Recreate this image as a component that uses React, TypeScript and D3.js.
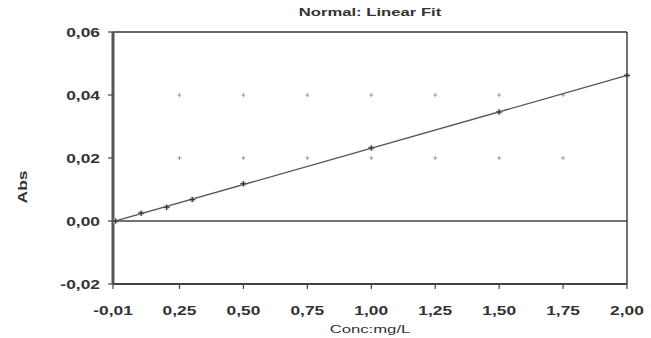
import React, { useEffect, useRef } from "react";
import * as d3 from "d3";

// values
const concPoints = [0, 0.1, 0.2, 0.3, 0.5, 1.0, 1.5, 2.0];
const absPoints = [0, 0.0025, 0.0044, 0.0068, 0.0118, 0.0232, 0.0346, 0.0462];
const fitSlope = 0.0231;
const fitIntercept = 0;
const xTicks = [-0.01, 0.25, 0.5, 0.75, 1.0, 1.25, 1.5, 1.75, 2.0];
const yTicks = [-0.02, 0, 0.02, 0.04, 0.06];
const gridX = [0.25, 0.5, 0.75, 1.0, 1.25, 1.5, 1.75];
const gridY = [0.02, 0.04];
const title = "Normal: Linear Fit";
const xLabel = "Conc:mg/L";
const yLabel = "Abs";

const W = 651;
const H = 338;
const margin = { top: 32, right: 24, bottom: 54, left: 113 };
const SX = 1.45; // the scan is stretched sideways

const fmt = (v: number) => d3.format(".2f")(v).replace(".", ",").replace("−", "-");

export default function App() {
  const ref = useRef<SVGSVGElement>(null);

  useEffect(() => {
    const svg = d3.select(ref.current);
    svg.selectAll("*").remove();
    const iw = W - margin.left - margin.right;
    const ih = H - margin.top - margin.bottom;
    const x = d3.scaleLinear().domain([-0.01, 2.0]).range([margin.left, margin.left + iw]);
    const y = d3.scaleLinear().domain([-0.02, 0.06]).range([margin.top + ih, margin.top]);
    const font = "'Liberation Sans', Arial, sans-serif";

    svg.append("rect").attr("width", W).attr("height", H).attr("fill", "#fff");

    // grid markers
    gridY.forEach((gy) => {
      gridX.forEach((gx) => {
        const g = svg.append("g").attr("stroke", "#9a9a9a").attr("stroke-width", 1);
        g.append("line").attr("x1", x(gx) - 2).attr("x2", x(gx) + 2).attr("y1", y(gy)).attr("y2", y(gy));
        g.append("line").attr("x1", x(gx)).attr("x2", x(gx)).attr("y1", y(gy) - 2).attr("y2", y(gy) + 2);
      });
    });

    // zero line
    svg.append("line")
      .attr("x1", x(-0.01)).attr("x2", x(2.0))
      .attr("y1", y(0)).attr("y2", y(0))
      .attr("stroke", "#444").attr("stroke-width", 1.6);

    // frame
    svg.append("line").attr("x1", x(-0.01)).attr("x2", x(2.0)).attr("y1", y(0.06)).attr("y2", y(0.06))
      .attr("stroke", "#333").attr("stroke-width", 1.6);
    svg.append("line").attr("x1", x(2.0)).attr("x2", x(2.0)).attr("y1", y(0.06)).attr("y2", y(-0.02))
      .attr("stroke", "#333").attr("stroke-width", 1.4);
    svg.append("line").attr("x1", x(-0.01)).attr("x2", x(2.0)).attr("y1", y(-0.02)).attr("y2", y(-0.02))
      .attr("stroke", "#444").attr("stroke-width", 2);
    svg.append("line").attr("x1", x(-0.01)).attr("x2", x(-0.01)).attr("y1", y(0.06)).attr("y2", y(-0.02))
      .attr("stroke", "#555").attr("stroke-width", 3);

    // fit line
    svg.append("line")
      .attr("x1", x(-0.01)).attr("y1", y(fitIntercept + fitSlope * -0.01))
      .attr("x2", x(2.0)).attr("y2", y(fitIntercept + fitSlope * 2.0))
      .attr("stroke", "#555").attr("stroke-width", 1.3);

    // data points
    concPoints.forEach((c, i) => {
      const px = x(c), py = y(absPoints[i]);
      svg.append("circle").attr("cx", px).attr("cy", py).attr("r", 3).attr("fill", "#bbb").attr("opacity", 0.6);
      const g = svg.append("g").attr("stroke", "#333").attr("stroke-width", 1.3);
      g.append("line").attr("x1", px - 3).attr("x2", px + 3).attr("y1", py).attr("y2", py);
      g.append("line").attr("x1", px).attr("x2", px).attr("y1", py - 2.5).attr("y2", py + 2.5);
    });

    // y ticks
    yTicks.forEach((t) => {
      svg.append("line").attr("x1", x(-0.01) - 5).attr("x2", x(-0.01)).attr("y1", y(t)).attr("y2", y(t))
        .attr("stroke", "#444").attr("stroke-width", 1.2);
      svg.append("text")
        .attr("transform", `translate(${x(-0.01) - 13},${y(t) + 4.5}) scale(${SX},1)`)
        .attr("text-anchor", "end")
        .attr("font-family", font).attr("font-size", 12).attr("font-weight", "bold")
        .attr("fill", "#333").text(fmt(t));
    });

    // x ticks
    xTicks.forEach((t) => {
      svg.append("line").attr("x1", x(t)).attr("x2", x(t)).attr("y1", y(-0.02)).attr("y2", y(-0.02) + 5)
        .attr("stroke", "#444").attr("stroke-width", 1.2);
      svg.append("text")
        .attr("transform", `translate(${x(t)},${y(-0.02) + 31}) scale(${SX},1)`)
        .attr("text-anchor", "middle")
        .attr("font-family", font).attr("font-size", 12).attr("font-weight", "bold")
        .attr("fill", "#333").text(fmt(t));
    });

    // title & axis labels
    svg.append("text")
      .attr("transform", `translate(${(x(-0.01) + x(2.0)) / 2},${16}) scale(${SX},1)`)
      .attr("text-anchor", "middle")
      .attr("font-family", font).attr("font-size", 11.5).attr("font-weight", "bold")
      .attr("fill", "#333").text(title);
    svg.append("text")
      .attr("transform", `translate(${(x(-0.01) + x(2.0)) / 2},${333}) scale(${SX},1)`)
      .attr("text-anchor", "middle")
      .attr("font-family", font).attr("font-size", 11.5)
      .attr("fill", "#333").text(xLabel);
    svg.append("text")
      .attr("transform", `translate(${27},${187}) rotate(-90) scale(${SX},1)`)
      .attr("text-anchor", "middle")
      .attr("font-family", font).attr("font-size", 12).attr("font-weight", "bold")
      .attr("fill", "#333").text(yLabel);
  }, []);

  return (
    <svg
      ref={ref}
      width={W}
      height={H}
      style={{ position: "absolute", left: 0, top: 0 }}
    />
  );
}
